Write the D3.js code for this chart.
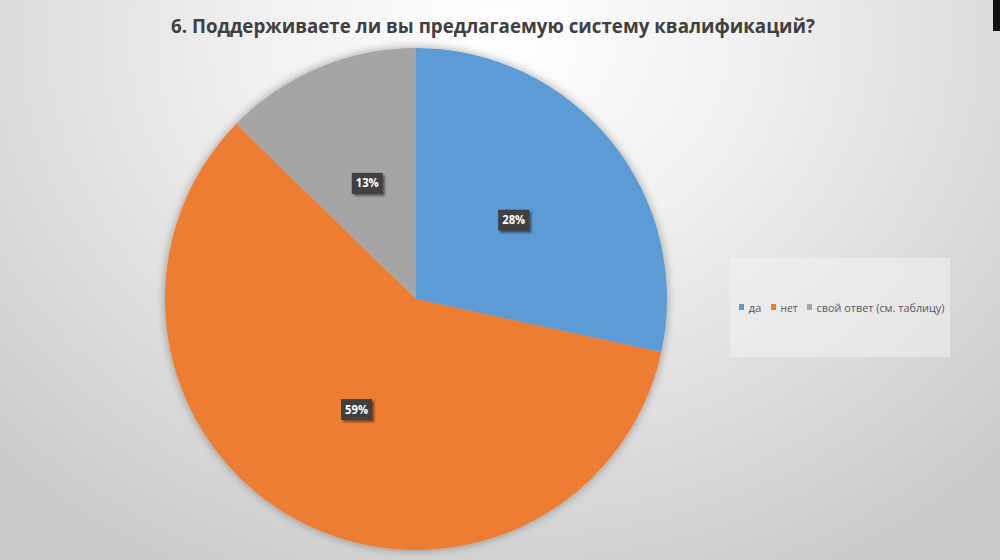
<!DOCTYPE html>
<html>
<head>
<meta charset="utf-8">
<script src="https://cdn.jsdelivr.net/npm/d3@7"></script>
<style>
  html, body { margin: 0; padding: 0; background: #fff; }
  svg { display: block; }
</style>
</head>
<body>
<svg id="chart" width="1000" height="560"></svg>
<script>
const title = "6. Поддерживаете ли вы предлагаемую систему квалификаций?";
const categories = ["да", "нет", "свой ответ (см. таблицу)"];
const values = [28.4, 58.9, 12.7];
const colors = ["#5B9BD5", "#ED7D31", "#A5A5A5"];

const W = 1000, H = 560;
const cx = 416, cy = 299, R = 251;

const svg = d3.select("#chart");
const defs = svg.append("defs");

const grad = defs.append("radialGradient")
  .attr("id", "bg").attr("gradientUnits", "userSpaceOnUse")
  .attr("cx", 500).attr("cy", 40).attr("r", 720)
  .attr("gradientTransform", "translate(500,40) scale(1,0.85) translate(-500,-40)");
grad.append("stop").attr("offset", "0%").attr("stop-color", "#ffffff");
grad.append("stop").attr("offset", "35%").attr("stop-color", "#f0f0f0");
grad.append("stop").attr("offset", "100%").attr("stop-color", "#c9c9c9");

const sh = defs.append("filter").attr("id", "pieShadow")
  .attr("x", "-10%").attr("y", "-10%").attr("width", "120%").attr("height", "120%");
sh.append("feGaussianBlur").attr("in", "SourceAlpha").attr("stdDeviation", 5).attr("result", "b");
sh.append("feOffset").attr("in", "b").attr("dx", 0).attr("dy", 0).attr("result", "o");
sh.append("feComponentTransfer").attr("in", "o").attr("result", "o2")
  .append("feFuncA").attr("type", "linear").attr("slope", 0.35);
const m = sh.append("feMerge");
m.append("feMergeNode").attr("in", "o2");
m.append("feMergeNode").attr("in", "SourceGraphic");

const lsh = defs.append("filter").attr("id", "lblShadow")
  .attr("x", "-30%").attr("y", "-30%").attr("width", "160%").attr("height", "160%");
lsh.append("feGaussianBlur").attr("in", "SourceAlpha").attr("stdDeviation", 1.2).attr("result", "b");
lsh.append("feOffset").attr("in", "b").attr("dx", 1.5).attr("dy", 1.5).attr("result", "o");
lsh.append("feComponentTransfer").attr("in", "o").attr("result", "o2")
  .append("feFuncA").attr("type", "linear").attr("slope", 0.5);
const m2 = lsh.append("feMerge");
m2.append("feMergeNode").attr("in", "o2");
m2.append("feMergeNode").attr("in", "SourceGraphic");

svg.append("rect").attr("width", W).attr("height", H).attr("fill", "url(#bg)");
// small dark bar at top-right edge
svg.append("rect").attr("x", 993).attr("y", 0).attr("width", 7).attr("height", 31).attr("fill", "#111");

svg.append("text")
  .attr("x", 493).attr("y", 33)
  .attr("text-anchor", "middle")
  .attr("font-family", "'Open Sans', sans-serif")
  .attr("font-weight", "bold")
  .attr("font-size", 19.5)
  .attr("fill", "#404040")
  .attr("textLength", 644).attr("lengthAdjust", "spacingAndGlyphs")
  .text(title);

const pie = d3.pie().sort(null).value(d => d);
const arcs = pie(values);
const arc = d3.arc().innerRadius(0).outerRadius(R);

const g = svg.append("g").attr("transform", `translate(${cx},${cy})`);
const pg = g.append("g").attr("filter", "url(#pieShadow)");
pg.selectAll("path").data(arcs).enter().append("path")
  .attr("d", arc)
  .attr("fill", (d, i) => colors[i]);

const labels = g.selectAll("g.lbl").data(arcs).enter().append("g")
  .attr("class", "lbl")
  .attr("transform", d => `translate(${arc.centroid(d)})`);
labels.append("rect")
  .attr("x", -15.5).attr("y", -10.5).attr("width", 31).attr("height", 21)
  .attr("fill", "#404040").attr("filter", "url(#lblShadow)");
labels.append("text")
  .attr("text-anchor", "middle").attr("dy", "0.36em")
  .attr("font-family", "'Open Sans', sans-serif")
  .attr("font-weight", "bold").attr("font-size", 11.5)
  .attr("fill", "#ffffff")
  .attr("textLength", 23).attr("lengthAdjust", "spacingAndGlyphs")
  .text((d, i) => Math.round(values[i]) + "%");

// legend
const lg = svg.append("g");
lg.append("rect").attr("x", 730).attr("y", 258).attr("width", 220).attr("height", 99)
  .attr("fill", "#f2f2f2").attr("fill-opacity", 0.55);
const legendX = [739, 771, 807];
const textW = [13, 17, 128];
categories.forEach((c, i) => {
  lg.append("rect").attr("x", legendX[i]).attr("y", 304).attr("width", 5).attr("height", 6)
    .attr("fill", colors[i]);
  lg.append("text").attr("x", legendX[i] + 9.5).attr("y", 312)
    .attr("font-family", "'Open Sans', sans-serif").attr("font-size", 11)
    .attr("fill", "#595959")
    .attr("textLength", textW[i]).attr("lengthAdjust", "spacingAndGlyphs")
    .text(c);
});
</script>
</body>
</html>
